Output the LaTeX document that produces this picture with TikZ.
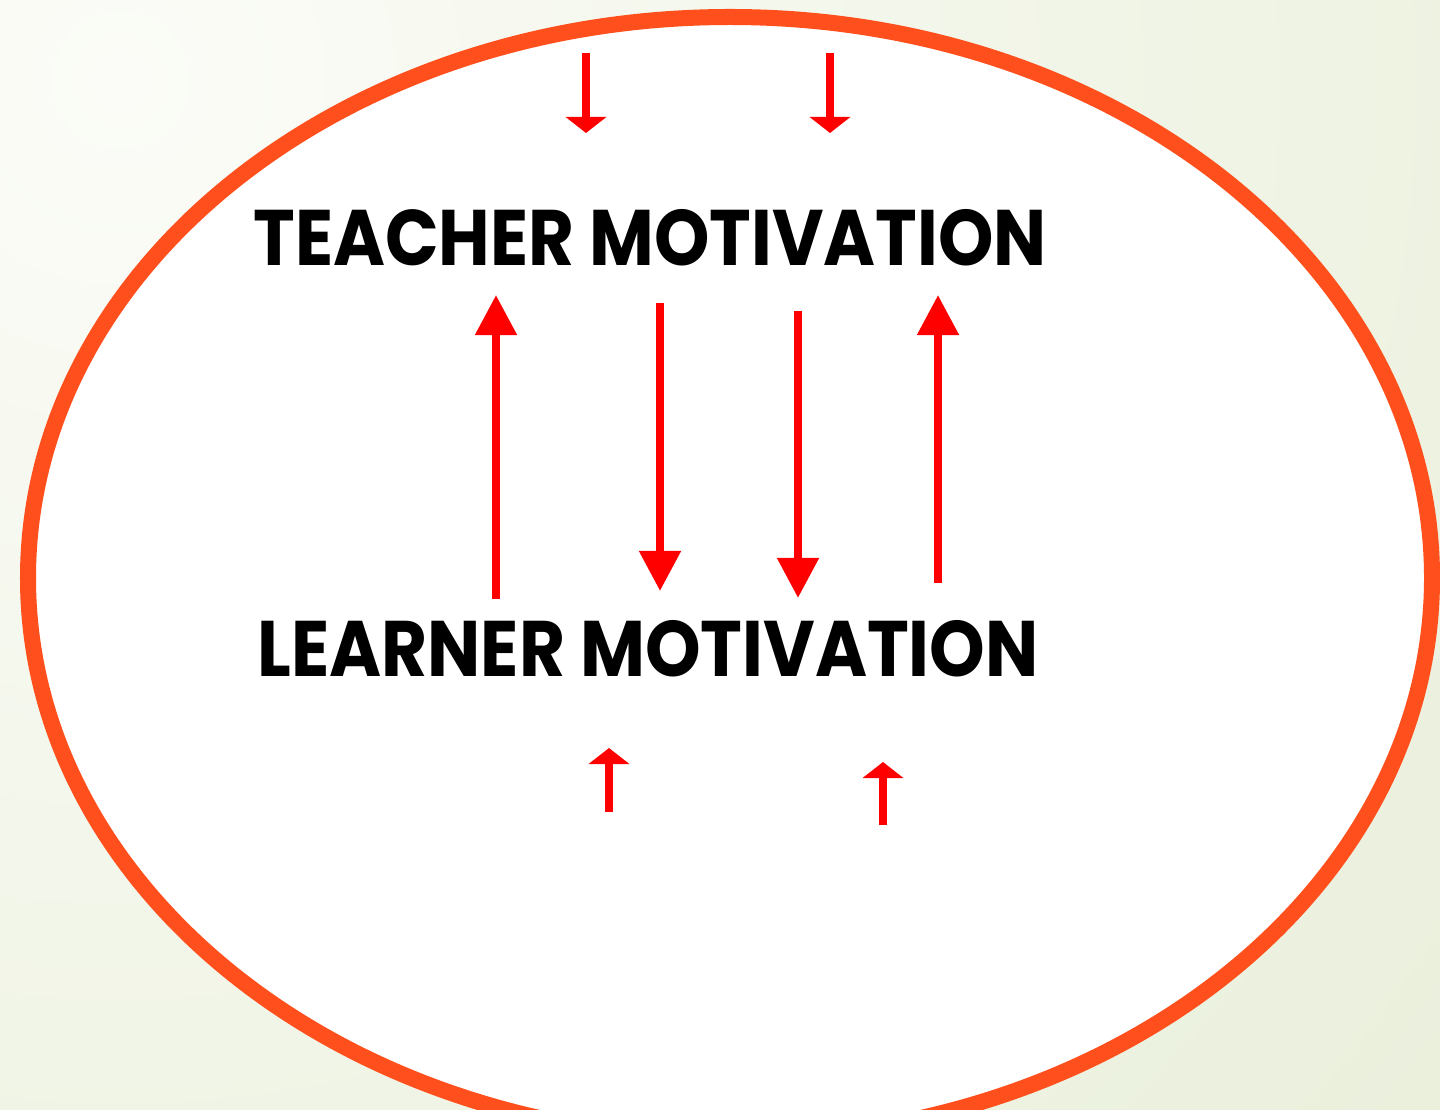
\documentclass[tikz,border=0pt]{standalone}
\usepackage{fontspec}
\newfontfamily\gothic{Poppins}
\usetikzlibrary{arrows.meta}
\definecolor{ring}{HTML}{FF4F1C}
\definecolor{bgA}{HTML}{FBFCF7}
\definecolor{bgB}{HTML}{DCE6C6}

\begin{document}
\begin{tikzpicture}[x=0.01cm,y=-0.01cm,
  lbl/.style={anchor=base,inner sep=0,font=\gothic\bfseries\fontsize{22.4}{24}\selectfont},
  big/.style={red,line width=0.08cm,-{Triangle[length=0.4cm,width=0.4cm]}},
  small/.style={red,line width=0.08cm,-{Triangle[length=0.16cm,width=0.4cm]}}]

\useasboundingbox (0,0) rectangle (1440,1110);
\clip (0,0) rectangle (1440,1110);
\shade [inner color=bgA, outer color=bgB] (120,80) circle (3000);
\draw [ring, line width=0.16cm, fill=white] (730,578) ellipse [x radius=702, y radius=561];

\node [lbl] (teacher) at (650,266) {\scalebox{0.895}[1]{TEACHER MOTIVATION}};
\node [lbl] (learner) at (648,676) {\scalebox{0.898}[1]{LEARNER MOTIVATION}};

% small arrows, top and bottom
\coordinate (in1)  at (586,53);  \coordinate (in1e)  at (586,133);
\coordinate (in2)  at (830,53);  \coordinate (in2e)  at (830,133);
\coordinate (out1) at (609,812); \coordinate (out1e) at (609,748);
\coordinate (out2) at (883,825); \coordinate (out2e) at (883,762);

% arrows between the two labels
\coordinate (up1)   at (496,599); \coordinate (up1e)   at (496,295);
\coordinate (down1) at (660,303); \coordinate (down1e) at (660,591);
\coordinate (down2) at (798,311); \coordinate (down2e) at (798,598);
\coordinate (up2)   at (938,583); \coordinate (up2e)   at (938,295);

\path (in1) edge [small] (in1e)
      (in2) edge [small] (in2e)
      (out1) edge [small] (out1e)
      (out2) edge [small] (out2e);

\path (up1) edge [big] (up1e)
      (down1) edge [big] (down1e)
      (down2) edge [big] (down2e)
      (up2) edge [big] (up2e);

\end{tikzpicture}
\end{document}
